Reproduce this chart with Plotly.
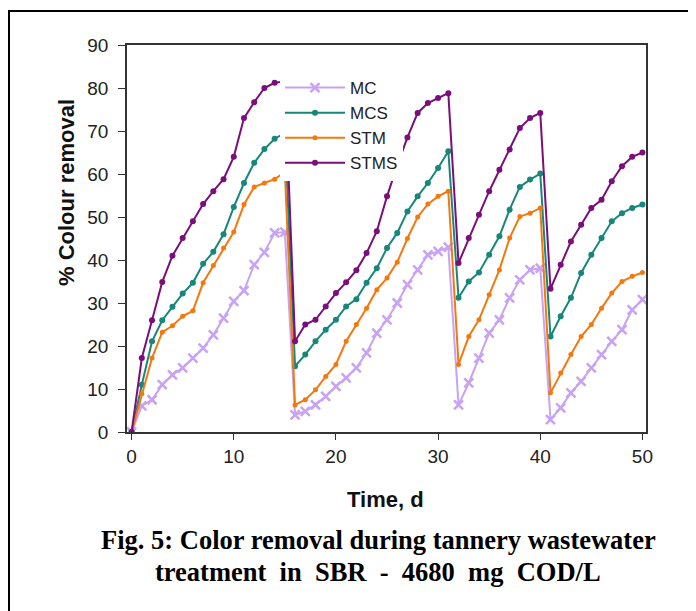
import plotly.graph_objects as go

days = [0, 1, 2, 3, 4, 5, 6, 7, 8, 9, 10, 11, 12, 13, 14, 15,
        16, 17, 18, 19, 20, 21, 22, 23, 24, 25, 26, 27, 28, 29, 30, 31,
        32, 33, 34, 35, 36, 37, 38, 39, 40,
        41, 42, 43, 44, 45, 46, 47, 48, 49, 50]

mc = [0, 6.1, 7.5, 11, 13.3, 14.9, 17.2, 19.5, 22.6, 26.5, 30.4, 32.9, 38.9, 41.8, 46.3, 46.5,
      4, 4.8, 6.3, 8.3, 10.6, 12.6, 14.9, 18.4, 23, 26.1, 30, 34.3, 37.7, 41.2, 42, 43,
      6.3, 11.4, 17.2, 23, 26.1, 31.2, 35.4, 37.7, 38.1,
      2.9, 5.6, 9.1, 11.8, 14.9, 18, 21.1, 23.8, 28.4, 30.8]

mcs = [0, 11, 21.1, 26, 29.1, 32.2, 34.7, 39.1, 41.9, 46, 52.3, 57.9, 62.6, 65.8, 68.2, 69.5,
       15.3, 18, 21.1, 23.8, 26.1, 29.2, 30.9, 34.7, 38.1, 42.8, 46.3, 51.3, 54.8, 57.9, 61.4, 65.3,
       31.2, 35, 37.1, 41.2, 45.5, 51.7, 57, 58.7, 60.1,
       22.2, 26.9, 31.2, 37, 41.2, 45.1, 49, 50.9, 52.1, 52.9]

stm = [0, 8.9, 17.2, 23.2, 24.7, 26.9, 28.2, 34.7, 38.7, 42.8, 46.5, 52.9, 57, 57.9, 58.8, 60.4,
       6.3, 7.5, 9.8, 12.9, 15.7, 21.1, 25, 28.8, 33.1, 35.8, 39.5, 45, 50, 53, 54.8, 56,
       15.7, 22.2, 26.1, 31.9, 37.7, 45.1, 50.1, 50.9, 52.1,
       9.1, 13.7, 18, 22.2, 25, 28.8, 32.3, 35, 36.2, 37.1]

stms = [0, 17.2, 26, 34.9, 41, 45.1, 49, 53, 56, 58.8, 64, 73, 76.7, 80, 81.2, 81.5,
        21.1, 25, 26.1, 29.2, 32.3, 34.8, 37.6, 41.6, 46.7, 54.8, 62, 68.5, 74.2, 76.5, 77.7, 78.8,
        39.3, 45.1, 50.5, 56, 61, 65.7, 70.7, 73, 74.2,
        33.3, 38.9, 44.3, 48.2, 52.1, 54, 58.3, 61.8, 64, 65]

x_ticks = [0, 10, 20, 30, 40, 50]
y_ticks = [0, 10, 20, 30, 40, 50, 60, 70, 80, 90]

# page body has an 8px default margin; the figure is sized to fit the window
OFF = 8
W, H = 696 - OFF, 611 - OFF
PL, PR, PT, PB = 127, 646, 45, 432   # plot area in window pixels


def px(x):
    return (x - PL) / (PR - PL)


def py(y):
    return (PB - y) / (PB - PT)


fig = go.Figure()
fig.add_trace(go.Scatter(x=days, y=mc, name="MC", mode="lines+markers",
                         line=dict(color="#C8A2F4", width=2),
                         marker=dict(symbol="x-thin", size=9, line=dict(width=2.5, color="#C8A2F4"))))
fig.add_trace(go.Scatter(x=days, y=mcs, name="MCS", mode="lines+markers",
                         line=dict(color="#17877A", width=2),
                         marker=dict(symbol="circle", size=6, color="#17877A")))
fig.add_trace(go.Scatter(x=days, y=stm, name="STM", mode="lines+markers",
                         line=dict(color="#F5780F", width=2),
                         marker=dict(symbol="circle", size=5, color="#F5780F")))
fig.add_trace(go.Scatter(x=days, y=stms, name="STMS", mode="lines+markers",
                         line=dict(color="#7A0E7A", width=2),
                         marker=dict(symbol="circle", size=6, color="#7A0E7A")))

sans = "Liberation Sans, Arial, sans-serif"
serif = "Liberation Serif, Times New Roman, serif"
axis_font = dict(family=sans, size=19, color="#222")
sp = "&nbsp;"

annotations = [
    dict(text="<b>% Colour removal</b>", x=px(66), y=py(193), textangle=-90,
         font=dict(family=sans, size=22, color="#111")),
    dict(text="<b>Time, d</b>", x=px(385), y=py(499),
         font=dict(family=sans, size=22, color="#111")),
    dict(text="<b>Fig. 5: Color removal during tannery wastewater</b>", x=px(378), y=py(540),
         font=dict(family=serif, size=26.5, color="#000")),
    dict(text="<b>treatment" + sp + " in" + sp + " SBR" + sp + " -" + sp + " 4680" + sp +
              " mg" + sp + " COD/L</b>", x=px(378), y=py(572),
         font=dict(family=serif, size=26.5, color="#000")),
]
for a in annotations:
    a.update(xref="paper", yref="paper", showarrow=False, xanchor="center", yanchor="middle")

fig.update_layout(
    width=W, height=H,
    margin=dict(l=PL - OFF, r=W - (PR - OFF), t=PT - OFF, b=H - (PB - OFF)),
    paper_bgcolor="white", plot_bgcolor="white",
    showlegend=True,
    legend=dict(x=px(280), y=py(70), xanchor="left", yanchor="top",
                bgcolor="white", borderwidth=0,
                font=dict(family=sans, size=17, color="#222"),
                itemwidth=60, tracegroupgap=0),
    xaxis=dict(range=[-0.45, 50.35], tickvals=x_ticks, ticks="outside", ticklen=6,
               showgrid=False, zeroline=False, showline=True, linecolor="#333", linewidth=1.5,
               mirror=True, tickfont=axis_font, tickcolor="#333"),
    yaxis=dict(range=[0, 90], tickvals=y_ticks, ticks="outside", ticklen=7,
               ticklabelstandoff=6,
               showgrid=False, zeroline=False, showline=True, linecolor="#333", linewidth=1.5,
               mirror=True, tickfont=axis_font, tickcolor="#333"),
    annotations=annotations,
)

# outer frame
fig.add_shape(type="rect", xref="paper", yref="paper",
              x0=px(9), x1=px(690), y0=py(640), y1=py(11),
              line=dict(color="black", width=2), layer="below")

fig.write_html("out.html")
